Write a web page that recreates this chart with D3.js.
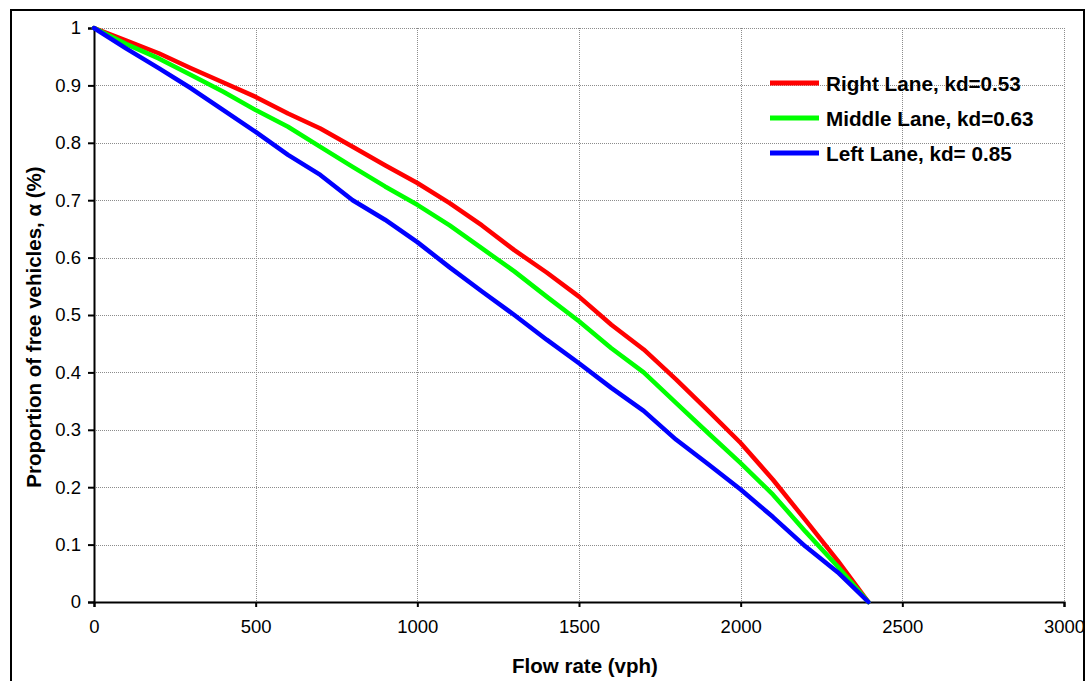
<!DOCTYPE html>
<html>
<head>
<meta charset="utf-8">
<script src="https://cdn.jsdelivr.net/npm/d3@7"></script>
<style>
  html, body { margin: 0; padding: 0; background: #fff; }
  svg { display: block; font-family: "Liberation Sans", Arial, sans-serif; }
</style>
</head>
<body>
<svg id="chart" width="1090" height="681"></svg>
<script>
// Flow rate (vph) at which each lane's proportion of free vehicles is sampled
const flowRate = [0, 100, 200, 300, 400, 500, 600, 700, 800, 900, 1000, 1100, 1200,
  1300, 1400, 1500, 1600, 1700, 1800, 1900, 2000, 2100, 2200, 2300, 2395];

// Proportion of free vehicles per lane
const rightLane = [1.0, 0.978, 0.956, 0.930, 0.905, 0.880, 0.851, 0.825, 0.793, 0.761, 0.730,
  0.695, 0.656, 0.613, 0.574, 0.532, 0.483, 0.440, 0.388, 0.333, 0.277, 0.213, 0.143, 0.072, 0];
const middleLane = [1.0, 0.972, 0.947, 0.918, 0.889, 0.857, 0.828, 0.793, 0.758, 0.724, 0.692,
  0.656, 0.616, 0.576, 0.532, 0.489, 0.442, 0.400, 0.347, 0.294, 0.242, 0.187, 0.123, 0.062, 0];
const leftLane = [1.0, 0.964, 0.930, 0.895, 0.857, 0.819, 0.779, 0.744, 0.700, 0.666, 0.627,
  0.583, 0.541, 0.500, 0.457, 0.416, 0.373, 0.333, 0.283, 0.240, 0.196, 0.148, 0.097, 0.052, 0];

const seriesNames = ["Right Lane, kd=0.53", "Middle Lane, kd=0.63", "Left Lane, kd= 0.85"];
const seriesColors = ["#ff0000", "#00ff00", "#0000ff"];
const seriesValues = [rightLane, middleLane, leftLane];

const xTicks = [0, 500, 1000, 1500, 2000, 2500, 3000];
const yTicks = [0, 0.1, 0.2, 0.3, 0.4, 0.5, 0.6, 0.7, 0.8, 0.9, 1];

const svg = d3.select("#chart");
const plot = { left: 94, right: 1064, top: 28, bottom: 602 };

const x = d3.scaleLinear().domain([0, 3000]).range([plot.left, plot.right]);
const y = d3.scaleLinear().domain([0, 1]).range([plot.bottom, plot.top]);

// outer frame
svg.append("rect")
  .attr("x", 11).attr("y", 10)
  .attr("width", 1073).attr("height", 674)
  .attr("fill", "none").attr("stroke", "#000").attr("stroke-width", 2);

// gridlines
const grid = svg.append("g").attr("stroke", "#8c8c8c").attr("stroke-width", 1)
  .attr("stroke-dasharray", "1,1").attr("shape-rendering", "crispEdges");
grid.selectAll("line.h").data(yTicks.filter(d => d > 0)).join("line")
  .attr("class", "h")
  .attr("x1", plot.left).attr("x2", plot.right)
  .attr("y1", d => Math.round(y(d)) + 0.5).attr("y2", d => Math.round(y(d)) + 0.5);
grid.selectAll("line.v").data(xTicks.filter(d => d > 0)).join("line")
  .attr("class", "v")
  .attr("y1", plot.top).attr("y2", plot.bottom)
  .attr("x1", d => Math.round(x(d)) + 0.5).attr("x2", d => Math.round(x(d)) + 0.5);

// axes
const xAxis = svg.append("g")
  .attr("transform", `translate(0,${plot.bottom})`)
  .call(d3.axisBottom(x).tickValues(xTicks).tickFormat(d3.format("d")).tickSize(5).tickPadding(13));
const yAxis = svg.append("g")
  .attr("transform", `translate(${plot.left},0)`)
  .call(d3.axisLeft(y).tickValues(yTicks).tickFormat(d => d === 0 || d === 1 ? d3.format("d")(d) : d3.format(".1f")(d)).tickSize(6).tickPadding(7));

[xAxis, yAxis].forEach(a => {
  a.select(".domain").attr("stroke", "#000").attr("stroke-width", 2);
  a.selectAll(".tick line").attr("stroke", "#000").attr("stroke-width", 2);
  a.selectAll(".tick text").attr("fill", "#000")
    .attr("font-family", "'Liberation Sans', Arial, sans-serif").attr("font-size", 18.5);
});

// lane curves
const line = d3.line().x((d, i) => x(flowRate[i])).y(d => y(d));
svg.append("g").selectAll("path").data(seriesValues).join("path")
  .attr("d", d => line(d))
  .attr("fill", "none")
  .attr("stroke", (d, i) => seriesColors[i])
  .attr("stroke-width", 4.5)
  .attr("stroke-linejoin", "round")
  .attr("stroke-linecap", "round");

// legend
const legend = svg.append("g");
seriesNames.forEach((name, i) => {
  const yy = 83 + i * 35;
  legend.append("line")
    .attr("x1", 770).attr("x2", 819).attr("y1", yy).attr("y2", yy)
    .attr("stroke", seriesColors[i]).attr("stroke-width", 5);
  legend.append("text")
    .attr("x", 826).attr("y", yy + 7.5)
    .attr("font-size", 20.7).attr("font-weight", "bold").attr("fill", "#000")
    .text(name);
});

// axis titles
svg.append("text")
  .attr("x", 585).attr("y", 673)
  .attr("text-anchor", "middle")
  .attr("font-size", 20.5).attr("font-weight", "bold")
  .text("Flow rate (vph)");
svg.append("text")
  .attr("transform", "translate(41,327) rotate(-90)")
  .attr("text-anchor", "middle")
  .attr("font-size", 20.5).attr("font-weight", "bold")
  .text("Proportion of free vehicles, α (%)");
</script>
</body>
</html>
